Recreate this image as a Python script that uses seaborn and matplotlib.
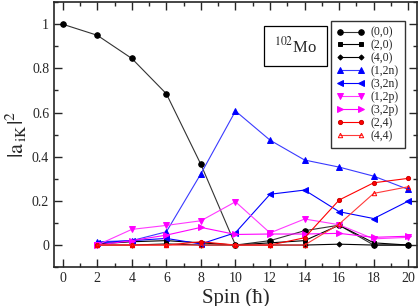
import numpy as np
import pandas as pd
import seaborn as sns
import matplotlib.pyplot as plt
from matplotlib.ticker import MultipleLocator

spin = [0, 2, 4, 6, 8, 10, 12, 14, 16, 18, 20]

k00 = [1.0, 0.95, 0.845, 0.685, 0.365, 0.0, 0.02, 0.065, 0.09, 0.0, 0.0]
k20 = [0.005, 0.015, 0.02, 0.01, 0.0, 0.01, 0.02, 0.09, 0.01, 0.0]
k40 = [0.0, 0.0, 0.005, 0.0, 0.0, 0.0, 0.0, 0.004, 0.0, 0.0]
k12n = [0.015, 0.02, 0.06, 0.323, 0.607, 0.475, 0.385, 0.353, 0.312, 0.252]
k32n = [0.01, 0.02, 0.03, 0.005, 0.056, 0.23, 0.249, 0.151, 0.12, 0.199]
k12p = [0.0, 0.071, 0.089, 0.11, 0.196, 0.055, 0.118, 0.092, 0.028, 0.035]
k32p = [0.0, 0.02, 0.045, 0.08, 0.048, 0.05, 0.05, 0.053, 0.035, 0.04]
k24 = [0.0, 0.0, 0.0, 0.015, 0.0, 0.0, 0.033, 0.204, 0.282, 0.302]
k44 = [0.0, 0.0, 0.0, 0.0, 0.0, 0.0, 0.0, 0.095, 0.234, 0.264]

labels = ["(0,0)", "(2,0)", "(4,0)", "(1,2n)", "(3,2n)", "(1,2p)", "(3,2p)", "(2,4)", "(4,4)"]

sns.set_style("ticks")
plt.rcParams["font.family"] = "Liberation Serif"
plt.rcParams["mathtext.fontset"] = "stix"

fig = plt.figure(figsize=(4.19, 3.06), dpi=100)
ax = fig.add_axes([0.129, 0.127, 0.866, 0.866])

series = [
    (k00, spin, dict(color="#333333", marker="o", ms=4.0, mec="black", mfc="black")),
    (k20, spin[1:], dict(color="black", marker="s", ms=3.4, mec="black", mfc="black")),
    (k40, spin[1:], dict(color="black", marker="D", ms=2.6, mec="black", mfc="black")),
    (k12n, spin[1:], dict(color="#3a3aff", marker="^", ms=4.0, mec="blue", mfc="blue")),
    (k32n, spin[1:], dict(color="blue", marker="<", ms=4.0, mec="blue", mfc="blue")),
    (k12p, spin[1:], dict(color="#ff3aff", marker="v", ms=4.0, mec="magenta", mfc="magenta")),
    (k32p, spin[1:], dict(color="magenta", marker=">", ms=4.0, mec="magenta", mfc="magenta")),
    (k24, spin[1:], dict(color="red", marker="o", ms=3.0, mec="#cc0000", mfc="red")),
    (k44, spin[1:], dict(color="#ff3a3a", marker="^", ms=3.2, mfc="none", mec="red")),
]

for (vals, xs, kw), lab in zip(series, labels):
    df = pd.DataFrame({"spin": xs, "amp": vals})
    sns.lineplot(data=df, x="spin", y="amp", ax=ax, lw=0.8, mew=0.7, **kw)

ax.set_xlim(-0.5, 20.5)
ax.set_ylim(-0.1, 1.1)
ax.xaxis.set_major_locator(MultipleLocator(2))
ax.xaxis.set_minor_locator(MultipleLocator(1))
ax.yaxis.set_minor_locator(MultipleLocator(0.1))
ax.set_yticks([0, 0.2, 0.4, 0.6, 0.8, 1.0])
ax.set_yticklabels(["0", "0.2", "0.4", "0.6", "0.8", "1"])
ax.tick_params(which="both", direction="in", top=True, right=True, labelsize=10, width=1.0)
ax.tick_params(which="major", length=6)
ax.tick_params(which="minor", length=3)
for s in ax.spines.values():
    s.set_linewidth(1.2)

ax.set_xlabel("Spin (ħ)", fontsize=15, labelpad=2)
ax.set_ylabel(r"$|\mathrm{a}_{\,\mathrm{iK}}|^{2}$", fontsize=16, labelpad=2)

leg = ax.legend(handles=ax.lines[:len(labels)], labels=labels,
                loc="upper right", bbox_to_anchor=(0.983, 0.952), numpoints=2, fontsize=8.5,
                frameon=True, fancybox=False, edgecolor="black", handlelength=2.4,
                labelspacing=0.08, borderpad=0.5, handletextpad=0.5)
leg.get_frame().set_linewidth(1.0)

ax.text(0.665, 0.834, r"$^{102}$Mo", transform=ax.transAxes, fontsize=12,
        ha="center", va="center",
        bbox=dict(boxstyle="square,pad=0.6", fc="white", ec="black", lw=0.9))

fig.savefig("out.png", dpi=100)
